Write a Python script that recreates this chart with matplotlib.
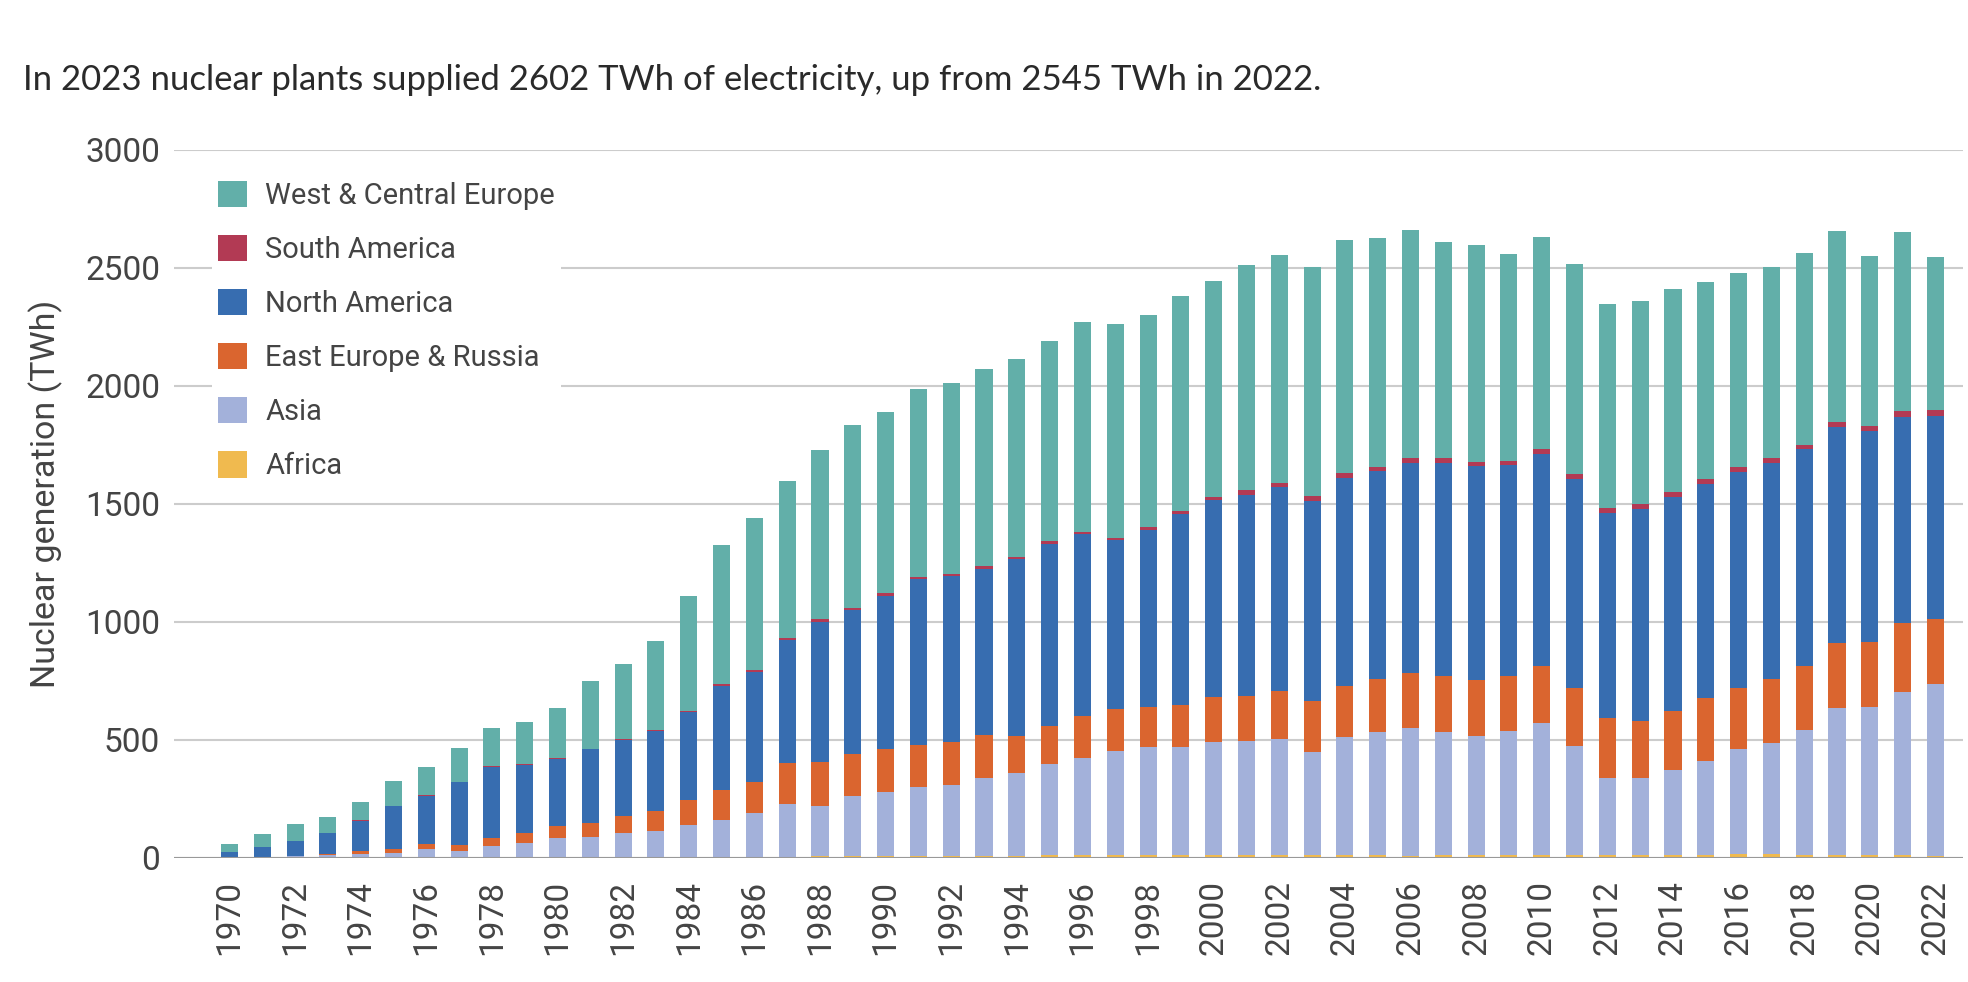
import numpy as np
import matplotlib
matplotlib.use('Agg')
import matplotlib.pyplot as plt
from matplotlib.patches import Patch

plt.rcParams['font.family'] = ['Roboto', 'DejaVu Sans']

# Nuclear generation by region (TWh)
years = list(range(1970, 2023))

africa = [0, 0, 0, 0, 0, 0, 0, 0, 0, 0,
          0, 0, 0, 0, 5, 3, 5, 5, 8, 8,
          8, 9, 9, 8, 9, 11, 12, 12, 14, 13,
          13, 11, 12, 13, 12, 12, 10, 12, 12, 13,
          12, 13, 12, 14, 14, 11, 15, 15, 11, 14,
          12, 12, 10]
asia = [2, 4, 8, 12, 18, 21, 37, 30, 49, 63,
        83, 87, 107, 113, 134, 160, 184, 224, 212, 255,
        272, 290, 299, 331, 351, 386, 412, 440, 457, 456,
        477, 483, 491, 436, 501, 524, 539, 520, 505, 526,
        558, 460, 329, 327, 357, 400, 447, 473, 530, 622,
        628, 692, 728]
east_europe = [1, 1, 2, 6, 13, 16, 21, 25, 36, 41,
               52, 61, 73, 86, 106, 125, 131, 174, 185, 178,
               182, 180, 184, 183, 157, 161, 176, 178, 167, 178,
               193, 193, 205, 217, 216, 221, 233, 238, 236, 231,
               244, 246, 251, 240, 250, 265, 259, 271, 271, 274,
               274, 293, 273]
north_america = [21, 43, 63, 88, 126, 182, 206, 266, 302, 290,
                 285, 312, 320, 340, 373, 441, 467, 519, 596, 611,
                 649, 702, 702, 704, 751, 772, 772, 717, 753, 810,
                 835, 852, 863, 848, 882, 882, 891, 903, 907, 894,
                 897, 888, 869, 899, 908, 908, 914, 914, 920, 916,
                 895, 873, 864]
south_america = [0, 0, 0, 0, 2, 2, 2, 2, 3, 3,
                 3, 3, 3, 3, 5, 7, 10, 9, 10, 8,
                 11, 11, 10, 12, 9, 12, 11, 10, 11, 12,
                 13, 19, 19, 19, 22, 17, 21, 21, 19, 20,
                 23, 22, 23, 19, 21, 21, 23, 21, 19, 23,
                 23, 23, 25]
west_europe = [35, 53, 72, 67, 80, 106, 119, 145, 159, 180,
               211, 288, 321, 379, 488, 591, 643, 668, 717, 774,
               769, 797, 808, 836, 837, 850, 890, 906, 897, 912,
               914, 953, 963, 973, 984, 971, 969, 916, 919, 875,
               897, 890, 863, 861, 861, 836, 819, 810, 811, 808,
               719, 760, 645]

series = [
    ('Africa', africa, '#f0ba4f'),
    ('Asia', asia, '#a3b1da'),
    ('East Europe & Russia', east_europe, '#da652f'),
    ('North America', north_america, '#376db0'),
    ('South America', south_america, '#b23a54'),
    ('West & Central Europe', west_europe, '#62afa9'),
]

fig = plt.figure(figsize=(19.68, 9.82), dpi=100)
ax = fig.add_axes([174 / 1968, 1 - 858 / 982, (1963 - 174) / 1968, (858 - 150) / 982])

bottom = np.zeros(len(years))
for name, vals, col in series:
    ax.bar(years, vals, bottom=bottom, width=0.52, color=col, label=name,
           edgecolor='none', zorder=3)
    bottom += np.array(vals)

ax.set_xlim(1968.31, 2022.84)
ax.set_ylim(0, 3000)
ax.set_yticks([0, 500, 1000, 1500, 2000, 2500, 3000])
ax.set_xticks(years[::2])
ax.set_xticklabels([str(y) for y in years[::2]], rotation=90)

ax.grid(axis='y', color='#cccccc', linewidth=1.5, zorder=0)
ax.axhline(0, color='#999999', linewidth=1.5, zorder=4)
for s in ax.spines.values():
    s.set_visible(False)
ax.tick_params(axis='both', length=0, labelsize=24, colors='#444444')
ax.tick_params(axis='y', pad=10)
ax.tick_params(axis='x', pad=16)

fig.text(46 / 1968, 1 - 494 / 982, 'Nuclear generation (TWh)', rotation=90,
         ha='center', va='center', fontsize=24.5, color='#444444')

fig.text(23 / 1968, 1 - 80 / 982,
         'In 2023 nuclear plants supplied 2602 TWh of electricity, up from 2545 TWh in 2022.',
         ha='left', va='center', fontsize=25, color='#2a2a2a',
         family=['Lato', 'DejaVu Sans'])

handles = [Patch(facecolor=c, edgecolor='none') for _, _, c in series][::-1]
labels = [n for n, _, _ in series][::-1]
leg = ax.legend(handles, labels, loc='upper left',
                bbox_to_anchor=(212 / 1968, 1 - 175 / 982),
                bbox_transform=fig.transFigure, frameon=True, fontsize=21,
                handlelength=1.0, handleheight=1.0, handletextpad=0.62,
                labelspacing=0.86, borderpad=0.2, borderaxespad=0)
leg.get_frame().set_facecolor('white')
leg.get_frame().set_edgecolor('none')
leg.get_frame().set_alpha(1)
leg.set_zorder(5)
for t in leg.get_texts():
    t.set_color('#444444')

fig.savefig('out.png', dpi=100)
